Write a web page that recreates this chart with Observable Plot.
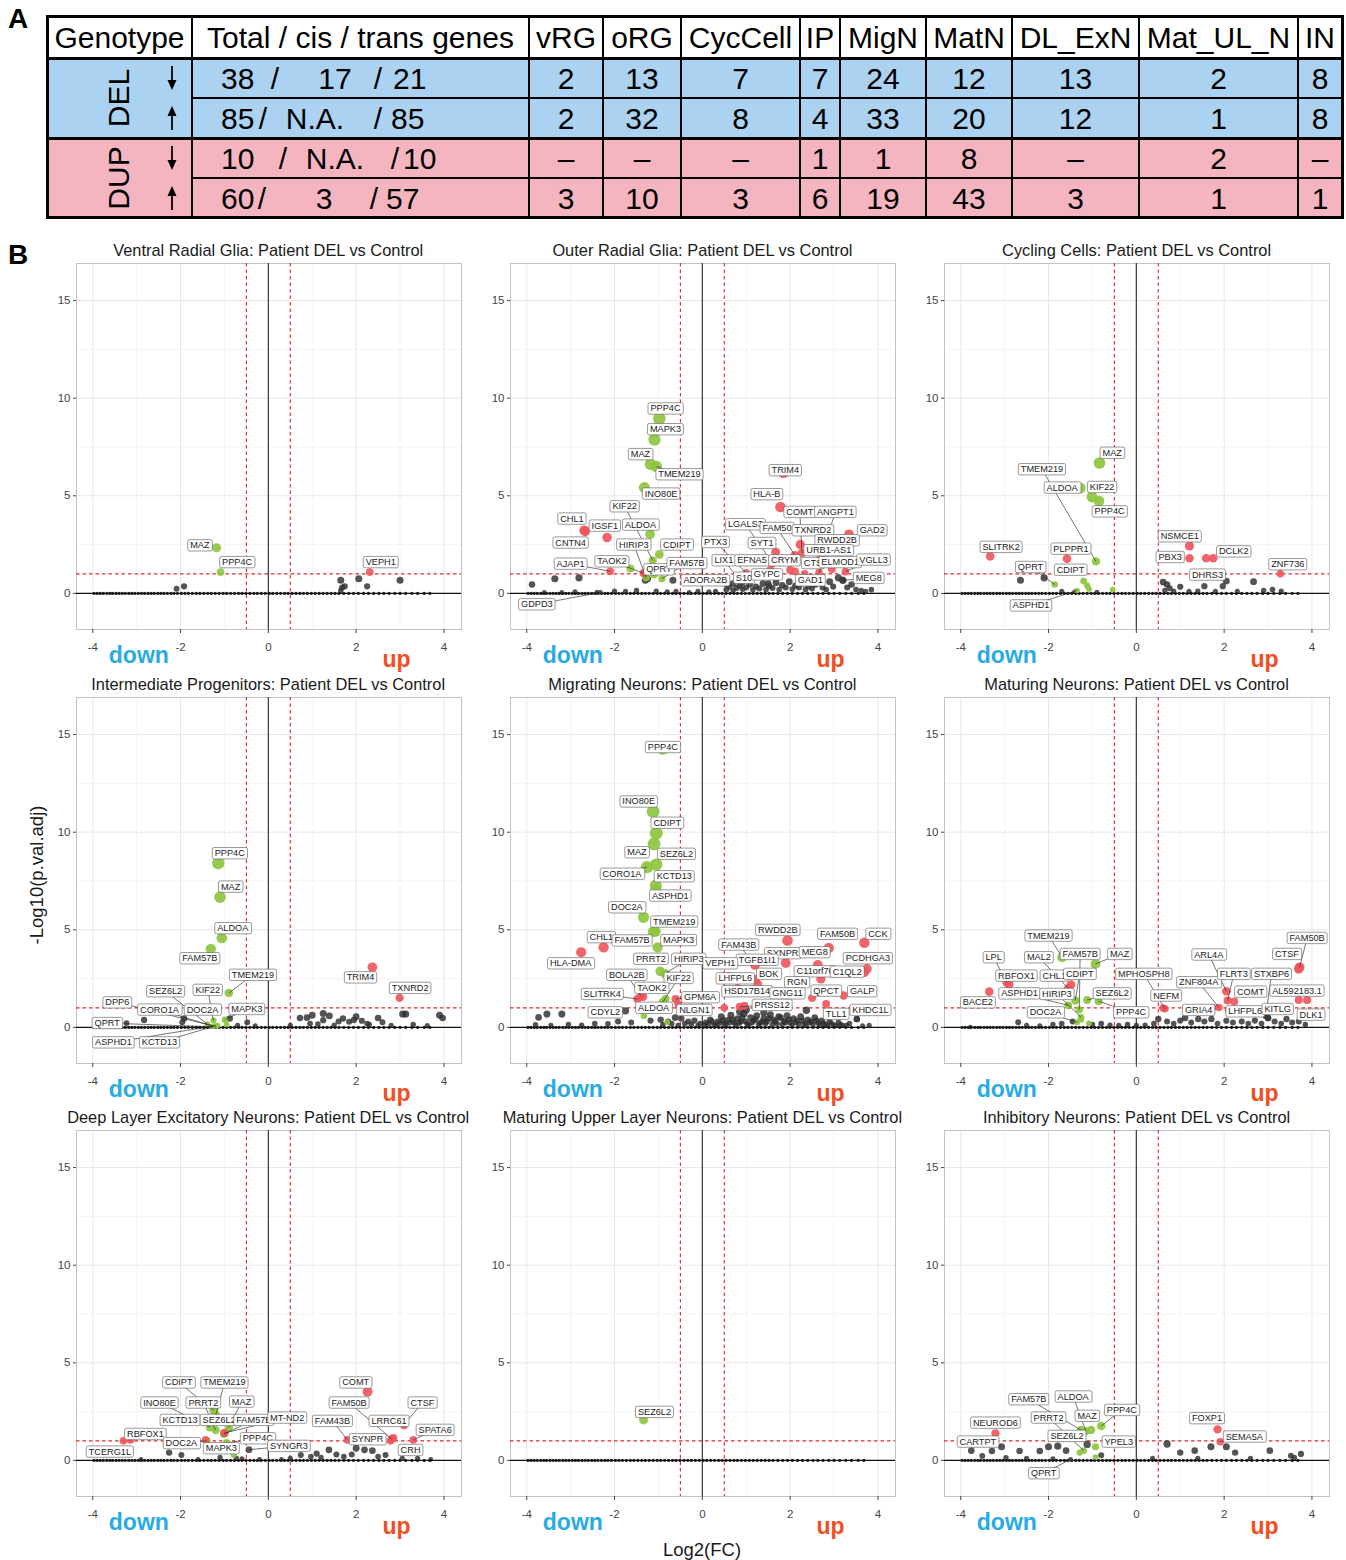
<!DOCTYPE html>
<html><head><meta charset="utf-8">
<script src="https://cdn.jsdelivr.net/npm/d3@7"></script>
<script src="https://cdn.jsdelivr.net/npm/@observablehq/plot@0.6"></script>
<style>
html,body{margin:0;padding:0;background:#fff;}
#fig{position:relative;width:1346px;height:1560px;overflow:hidden;font-family:"Liberation Sans",Arial,Helvetica,sans-serif;color:#000;}
.a{position:absolute;white-space:nowrap;}
.cell{position:absolute;display:flex;align-items:center;justify-content:center;font-size:30px;line-height:1;white-space:nowrap;}
.ttl{position:absolute;width:440px;text-align:center;font-size:16.4px;line-height:18px;color:#1a1a1a;white-space:nowrap;}
</style></head><body><div id="fig"></div>
<script>
// ---------------- TABLE DATA (panel A) ----------------
const tableCols = ["Genotype","Total / cis / trans genes","vRG","oRG","CycCell","IP","MigN","MatN","DL_ExN","Mat_UL_N","IN"];
const genotypes = ["DEL","DUP"];
const totals = [["38","17","21"],["85","N.A.","85"],["10","N.A.","10"],["60","3","57"]];
const counts = [
  ["2","13","7","7","24","12","13","2","8"],
  ["2","32","8","4","33","20","12","1","8"],
  ["–","–","–","1","1","8","–","2","–"],
  ["3","10","3","6","19","43","3","1","1"]
];

// ---------------- VOLCANO DATA (panel B) ----------------
const panelTitles = [
  "Ventral Radial Glia: Patient DEL vs Control",
  "Outer Radial Glia: Patient DEL vs Control",
  "Cycling Cells: Patient DEL vs Control",
  "Intermediate Progenitors: Patient DEL vs Control",
  "Migrating Neurons: Patient DEL vs Control",
  "Maturing Neurons: Patient DEL vs Control",
  "Deep Layer Excitatory Neurons: Patient DEL vs Control",
  "Maturing Upper Layer Neurons: Patient DEL vs Control",
  "Inhibitory Neurons: Patient DEL vs Control"
];
const xTicks = [-4,-2,0,2,4];
const yTicks = [0,5,10,15];
const xMinor = [-3,-1,1,3];
const yMinor = [2.5,7.5,12.5];
const fcThresholds = [-0.5,0.5];
const pThreshold = [1];
const dirWords = ["down","up"];
const dirX = [-2.95,2.92];

// log2FC of genes sitting at -log10(p) ~ 0
const baselineFC = [-3.97,-3.9,-3.83,-3.76,-3.68,-3.61,-3.55,-3.47,-3.4,-3.33,-3.26,-3.18,-3.11,-3.04,-2.96,-2.89,-2.82,-2.74,-2.67,-2.6,-2.52,-2.45,-2.38,-2.3,-2.22,-2.15,-2.07,-1.98,-1.9,-1.82,-1.73,-1.64,-1.56,-1.47,-1.38,-1.3,-1.21,-1.12,-1.03,-0.95,-0.86,-0.77,-0.68,-0.6,-0.51,-0.42,-0.33,-0.25,-0.16,-0.07,0.02,0.1,0.19,0.28,0.37,0.45,0.54,0.63,0.72,0.8,0.89,0.98,1.07,1.16,1.25,1.34,1.43,1.52,1.61,1.72,1.83,1.94,2.05,2.17,2.28,2.4,2.52,2.63,2.75,2.88,3.0,3.13,3.27,3.4,3.55,3.68];

// [gene, log2FC, -log10p, dir, labelX, labelY]
const vrgGenes = [["MAZ",-1.18,2.34,"dn",-1.56,2.46],["PPP4C",-1.09,1.09,"dn",-0.71,1.6],["VEPH1",2.31,1.09,"up",2.56,1.6]];
const vrgExtra = [];
const vrgLow = [[1.65,0.67],[2.06,0.75],[3.0,0.67],[2.25,0.36],[1.74,0.36],[1.68,0.3],[1.65,0.15],[-2.09,0.24],[-1.92,0.36]];

const orgGenes = [
  ["PPP4C",-0.98,8.96,"dn",-0.84,9.47],["MAPK3",-1.09,7.88,"dn",-0.84,8.41],["MAZ",-1.18,6.62,"dn",-1.41,7.13],
  ["TMEM219",-1.05,6.5,"dn",-0.52,6.1],["INO80E",-1.32,5.42,"dn",-0.94,5.11],["KIF22",-1.13,1.69,"dn",-1.77,4.46],
  ["ALDOA",-1.19,3.03,"dn",-1.41,3.52],["HIRIP3",-1.28,0.8,"dn",-1.56,2.5],["CDIPT",-0.98,2.0,"dn",-0.58,2.5],
  ["QPRT",-1.1,0.95,"dn",-0.99,1.23],["FAM57B",-0.92,0.75,"dn",-0.35,1.55],["CHL1",-2.69,3.23,"up",-2.97,3.83],
  ["CNTN4",-2.67,3.18,"up",-3.0,2.6],["IGSF1",-2.17,2.86,"up",-2.22,3.47],["AJAP1",-2.1,1.13,"up",-3.0,1.52],
  ["TAOK2",-1.34,1.04,"up",-2.06,1.64],["GDPD3",-2.32,0.05,"g",-3.77,-0.56],["ADORA2B",0.55,0.45,"g",0.07,0.67],
  ["TRIM4",1.85,6.2,"up",1.89,6.31],["HLA-B",1.78,4.43,"up",1.47,5.08],["COMT",2.27,2.07,"up",2.22,4.17],
  ["ANGPT1",2.7,1.85,"up",3.03,4.17],["LGALS3",1.6,1.55,"up",0.98,3.54],["FAM50",2.11,1.95,"up",1.7,3.35],
  ["TXNRD2",2.23,2.51,"up",2.52,3.23],["GAD2",3.34,3.03,"up",3.87,3.23],["RWDD2B",2.95,2.25,"up",3.07,2.72],
  ["PTX3",1.0,1.05,"up",0.3,2.63],["SYT1",1.67,2.12,"up",1.36,2.58],["URB1-AS1",2.66,1.06,"up",2.88,2.21],
  ["LIX1",0.9,0.55,"g",0.49,1.69],["EFNA5",1.55,1.2,"up",1.13,1.69],["CRYM",2.0,1.2,"up",1.87,1.69],
  ["CTS",2.33,1.0,"up",2.52,1.55],["ELMOD1",2.95,1.25,"up",3.14,1.6],["VGLL3",3.26,1.12,"up",3.9,1.73],
  ["MEG8",3.2,0.67,"g",3.79,0.79],["S10",0.7,0.5,"g",0.95,0.8],["GYPC",1.5,0.5,"g",1.47,0.97],["GAD1",2.2,0.55,"g",2.46,0.67]
];
const orgExtra = [[-1.64,1.27,"dn"],[-1.34,1.04,"up"],[2.11,1.13,"up"]];
const orgLow = [[-3.88,0.46],[-3.36,0.75],[-2.81,0.8],[-1.3,0.67],[-1.25,0.75],[-0.67,0.67],[-3.6,0.05],[-3.2,0.05],[-2.9,0.08],[-2.4,0.06],[-2.0,0.12],[-1.75,0.1],[-1.5,0.15],[-1.05,0.12],[-0.8,0.08],[-0.6,0.1],
  [0.55,0.2],[0.62,0.35],[0.7,0.15],[0.78,0.28],[0.85,0.4],[0.92,0.22],[1.0,0.3],[1.08,0.45],[1.15,0.18],[1.22,0.35],[1.3,0.25],[1.38,0.5],[1.45,0.2],[1.52,0.38],[1.6,0.28],[1.68,0.55],[1.75,0.2],[1.82,0.42],[1.9,0.3],[1.98,0.6],[2.05,0.22],[2.12,0.4],[2.2,0.3],[2.28,0.52],[2.35,0.2],[2.42,0.36],[2.5,0.25],[2.58,0.45],[2.66,0.66],[2.74,0.3],[2.82,0.2],[2.9,0.6],[2.98,0.35],[3.1,0.8],[3.2,0.67],[3.3,0.3],[3.4,0.46],[3.5,0.2],[3.62,0.15],[3.72,0.1],[3.85,0.19],[0.3,0.1],[0.15,0.08],[-0.1,0.1],[-0.3,0.05]];

const cycGenes = [
  ["MAZ",-0.84,6.68,"dn",-0.55,7.2],["TMEM219",-0.92,1.64,"dn",-2.15,6.36],["ALDOA",-1.28,5.4,"dn",-1.69,5.42],
  ["KIF22",-1.01,4.94,"dn",-0.78,5.45],["PPP4C",-0.85,4.73,"dn",-0.61,4.2],["SLITRK2",-3.33,1.9,"up",-3.08,2.38],
  ["PLPPR1",-1.58,1.78,"up",-1.49,2.29],["QPRT",-1.86,0.46,"dn",-2.41,1.35],["CDIPT",-1.2,0.63,"dn",-1.5,1.21],
  ["ASPHD1",-1.35,0.15,"dn",-2.4,-0.62],["NSMCE1",1.21,2.43,"up",0.99,2.92],["PBX3",1.21,1.8,"up",0.77,1.86],
  ["DCLK2",1.75,1.8,"up",2.22,2.15],["DHRS3",1.59,1.8,"up",1.62,0.96],["ZNF736",3.28,1.01,"up",3.45,1.49]
];
const cycExtra = [[-1.08,0.23,"dn"],[-1.12,0.4,"dn"],[-0.54,0.2,"dn"]];
const cycLow = [[-2.64,0.67],[-2.1,0.8],[0.61,0.58],[0.7,0.46],[0.76,0.26],[1.0,0.34],[1.55,0.37],[1.97,0.37],[2.05,0.63],[2.67,0.6],[0.65,0.15],[0.85,0.12],[1.2,0.1],[1.4,0.12],[1.8,0.1],[2.3,0.1],[2.9,0.15],[3.1,0.2],[3.3,0.12],[-1.4,0.08],[-1.7,0.1],[-0.9,0.06]];

const ipGenes = [
  ["PPP4C",-1.14,8.41,"dn",-0.88,8.92],["MAZ",-1.1,6.67,"dn",-0.86,7.21],["ALDOA",-1.06,4.58,"dn",-0.81,5.08],
  ["FAM57B",-1.31,4.02,"dn",-1.56,3.54],["TMEM219",-0.9,1.76,"dn",-0.35,2.69],["SEZ6L2",-1.39,0.17,"dn",-2.34,1.85],
  ["KIF22",-1.25,0.35,"dn",-1.38,1.92],["DPP6",-1.2,0.05,"g",-3.44,1.28],["CORO1A",-1.25,0.05,"dn",-2.48,0.91],
  ["DOC2A",-1.15,0.1,"dn",-1.5,0.91],["MAPK3",-0.99,0.39,"dn",-0.49,0.94],["QPRT",-1.25,0.03,"dn",-3.67,0.22],
  ["ASPHD1",-1.3,0.05,"dn",-3.53,-0.77],["KCTD13",-1.2,0.08,"dn",-2.48,-0.77],
  ["TRIM4",2.37,3.08,"up",2.1,2.56],["TXNRD2",2.99,1.51,"up",3.23,2.02]
];
const ipExtra = [[-0.95,0.15,"dn"]];
const ipLow = [[-3.23,0.22],[-2.83,0.38],[-1.92,0.46],[-1.96,0.26],[-0.48,0.26],[-0.88,0.46],[0.72,0.48],[0.88,0.5],[1.0,0.62],[1.25,0.71],[1.25,0.37],[1.39,0.59],[1.13,0.17],[1.6,0.3],[1.84,0.29],[1.95,0.38],[2.13,0.34],[2.5,0.48],[2.6,0.26],[3.06,0.68],[3.13,0.68],[3.9,0.62],[3.97,0.48],[3.62,0.09],[2.8,0.1],[2.3,0.15],[1.5,0.12],[0.5,0.1],[0.95,0.2],[1.7,0.45],[2.0,0.55],[2.25,0.2],[3.3,0.15],[-0.7,0.1],[-0.3,0.08]];

const migGenes = [
  ["PPP4C",-0.9,14.3,"dn",-0.9,14.36],["INO80E",-1.12,11.06,"dn",-1.45,11.57],["CDIPT",-1.05,9.95,"dn",-0.8,10.48],
  ["MAZ",-1.1,9.4,"dn",-1.49,8.97],["SEZ6L2",-1.05,8.34,"dn",-0.59,8.89],["CORO1A",-1.26,8.21,"dn",-1.83,7.87],
  ["KCTD13",-1.06,7.27,"dn",-0.64,7.74],["ASPHD1",-1.06,7.0,"dn",-0.73,6.75],["DOC2A",-1.34,5.64,"dn",-1.72,6.15],
  ["TMEM219",-1.07,4.92,"dn",-0.64,5.42],["CHL1",-2.25,4.1,"up",-2.3,4.62],["FAM57B",-1.12,4.9,"dn",-1.6,4.45],
  ["MAPK3",-1.02,4.1,"dn",-0.54,4.47],["HLA-DMA",-2.76,3.85,"up",-3.0,3.28],["PRRT2",-0.96,2.87,"dn",-1.17,3.51],
  ["HIRIP3",-0.85,2.75,"dn",-0.31,3.51],["BOLA2B",-1.4,1.6,"up",-1.72,2.69],["KIF22",-0.9,1.3,"dn",-0.54,2.53],
  ["TAOK2",-1.35,1.57,"up",-1.15,2.02],["SLITRK4",-1.48,1.45,"up",-2.28,1.71],["GPM6A",-0.61,1.45,"up",-0.05,1.54],
  ["ALDOA",-0.84,1.45,"dn",-1.11,1.0],["NLGN1",-0.55,1.2,"up",-0.18,0.89],["CDYL2",-1.75,0.85,"g",-2.21,0.77],
  ["RWDD2B",1.94,4.45,"up",1.72,4.99],["FAM50B",2.88,4.07,"up",3.08,4.79],["CCK",3.69,4.33,"up",4.0,4.79],
  ["FAM43B",1.2,3.2,"up",0.83,4.24],["SYNPR",1.9,3.3,"up",1.83,3.8],["MEG8",2.63,3.2,"up",2.56,3.85],
  ["TGFB1I1",1.2,2.45,"up",1.25,3.46],["PCDHGA3",3.75,3.0,"up",3.77,3.54],["VEPH1",0.6,2.6,"up",0.41,3.28],
  ["C11orf70",2.7,2.48,"up",2.57,2.87],["C1QL2",3.69,2.82,"up",3.3,2.85],["LHFPL6",0.8,2.0,"up",0.75,2.51],
  ["BOK",1.26,2.22,"up",1.51,2.74],["RGN",2.16,2.0,"up",2.16,2.31],["QPCT",2.5,1.51,"up",2.82,1.88],
  ["GALP",3.22,1.63,"up",3.64,1.85],["HSD17B14",0.96,1.11,"up",1.02,1.85],["GNG11",1.94,1.6,"up",1.94,1.74],
  ["PRSS12",0.85,1.06,"up",1.59,1.15],["TLL1",2.82,1.2,"up",3.05,0.69],["KHDC1L",3.52,0.43,"g",3.83,0.89]
];
const migExtra = [[-1.33,0.6,"dn"],[-0.8,0.26,"dn"],[0.5,1.0,"up"]];
const migLow = [[-3.73,0.51],[-3.54,0.68],[-3.2,0.68],[-3.8,0.14],[-3.45,0.1],[-3.05,0.15],[-2.75,0.12],[-2.45,0.2],[-2.15,0.18],[-1.92,0.3],[-1.62,0.25],[-1.18,0.35],[-0.95,0.4],[-0.78,0.3],[-0.62,0.5],[-0.48,0.45],[-0.32,0.3],[-0.18,0.35],[-0.05,0.2],[0.08,0.25],[0.18,0.4],[0.27,0.15],[0.35,0.3],[0.43,0.55],[0.5,0.2],[0.58,0.38],[0.65,0.62],[0.72,0.25],[0.8,0.45],[0.88,0.3],[0.95,0.7],[1.02,0.18],[1.1,0.5],[1.17,0.35],[1.24,0.6],[1.32,0.22],[1.4,0.45],[1.47,0.3],[1.55,0.65],[1.62,0.4],[1.7,0.2],[1.78,0.5],[1.86,0.32],[1.93,0.6],[2.0,0.25],[2.08,0.45],[2.16,0.35],[2.24,0.55],[2.32,0.2],[2.4,0.4],[2.48,0.3],[2.56,0.5],[2.64,0.22],[2.72,0.35],[2.8,0.15],[2.9,0.3],[3.0,0.12],[3.1,0.25],[3.2,0.1],[3.35,0.2],[3.52,0.43],[3.65,0.08],[3.8,0.1],[2.37,0.88],[1.4,0.75],[1.0,0.9],[0.85,0.8],
  [-0.9,0.15],[-0.7,0.2],[-0.55,0.12],[-0.4,0.2],[-0.25,0.15],[-0.1,0.1],[0.05,0.12],[0.14,0.18],[0.22,0.3],[0.31,0.12],[0.39,0.22],[0.47,0.35],[0.54,0.12],[0.62,0.25],[0.69,0.4],[0.76,0.15],[0.84,0.22],[0.91,0.5],[0.99,0.3],[1.06,0.12],[1.13,0.25],[1.21,0.42],[1.28,0.15],[1.36,0.3],[1.44,0.2],[1.51,0.45],[1.59,0.15],[1.66,0.3],[1.74,0.55],[1.82,0.15],[1.89,0.25],[1.97,0.4],[2.04,0.12],[2.12,0.25],[2.2,0.15],[2.28,0.35],[2.36,0.12],[2.44,0.25],[2.52,0.15],[2.6,0.35],[2.68,0.12],[2.76,0.22],[2.85,0.1],[2.95,0.18],[3.05,0.08],[3.15,0.15],[3.28,0.1]];

const matGenes = [
  ["TMEM219",-1.69,3.59,"dn",-2.0,4.7],["LPL",-2.95,2.31,"up",-3.25,3.59],["MAL2",-1.55,2.0,"up",-2.22,3.59],
  ["FAM57B",-1.3,0.9,"dn",-1.28,3.76],["MAZ",-0.93,3.25,"dn",-0.38,3.76],["RBFOX1",-2.9,2.2,"up",-2.73,2.65],
  ["CHL1",-1.49,2.19,"up",-1.87,2.65],["CDIPT",-1.39,1.38,"dn",-1.29,2.74],["ASPHD1",-1.55,1.13,"dn",-2.66,1.74],
  ["HIRIP3",-1.26,0.52,"dn",-1.81,1.71],["SEZ6L2",-1.12,1.4,"dn",-0.55,1.74],["BACE2",-3.35,1.83,"up",-3.61,1.28],
  ["DOC2A",-1.35,0.26,"dn",-2.07,0.77],["PPP4C",-0.86,1.34,"dn",-0.12,0.77],["MPHOSPH8",0.65,0.95,"up",0.17,2.74],
  ["NEFM",0.61,0.99,"up",0.68,1.63],["ARL4A",2.05,1.85,"up",1.65,3.73],["ZNF804A",1.88,1.02,"up",1.42,2.31],
  ["FLRT3",2.08,1.38,"up",2.22,2.74],["STXBP6",2.95,0.6,"g",3.08,2.74],["FAM50B",3.72,3.08,"up",3.89,4.58],
  ["CTSF",3.7,3.0,"up",3.43,3.76],["COMT",2.23,1.32,"up",2.6,1.83],["AL592183.1",3.7,1.4,"up",3.66,1.88],
  ["GRIA4",1.74,1.02,"up",1.42,0.89],["LHFPL6",2.1,0.9,"up",2.48,0.82],["KITLG",3.0,0.48,"g",3.22,0.94],
  ["DLK1",3.89,1.4,"up",3.98,0.65]
];
const matExtra = [[-1.08,0.21,"dn"],[-1.26,0.4,"dn"]];
const matLow = [[-2.69,0.26],[-2.5,0.1],[-3.78,0.02],[-2.2,0.08],[-1.9,0.15],[-1.7,0.2],[-1.45,0.3],[-1.0,0.15],[-0.8,0.2],[-0.6,0.12],[-0.4,0.1],[-0.2,0.15],[0.0,0.1],[0.2,0.12],[0.4,0.2],[0.5,0.43],[0.7,0.3],[0.85,0.2],[1.0,0.35],[1.11,0.48],[1.25,0.25],[1.41,0.43],[1.55,0.3],[1.71,0.43],[1.85,0.2],[2.05,0.34],[2.2,0.25],[2.4,0.3],[2.55,0.2],[2.7,0.35],[2.85,0.2],[3.0,0.48],[3.15,0.3],[3.3,0.2],[3.42,0.43],[3.55,0.25],[3.7,0.3],[3.85,0.15]];

const dlGenes = [
  ["CDIPT",-1.24,2.55,"dn",-2.04,3.99],["TMEM219",-1.2,2.3,"dn",-1.0,3.99],["INO80E",-1.33,1.7,"dn",-2.48,2.96],
  ["PRRT2",-1.2,1.55,"dn",-1.48,2.96],["MAZ",-0.9,1.68,"dn",-0.61,3.01],["KCTD13",-1.46,2.0,"dn",-2.01,2.07],
  ["SEZ6L2",-1.0,1.4,"dn",-1.12,2.07],["FAM57B",-1.01,1.35,"dn",-0.33,2.07],["MT-ND2",-1.0,1.4,"up",0.43,2.19],
  ["RBFOX1",-3.14,1.05,"up",-2.8,1.35],["TCERG1L",-3.3,1.0,"up",-3.61,0.45],["DOC2A",-1.4,1.0,"dn",-1.98,0.88],
  ["MAPK3",-0.79,0.27,"dn",-1.07,0.62],["PPP4C",-0.95,0.9,"dn",-0.24,1.13],["SYNGR3",-0.44,0.55,"g",0.47,0.74],
  ["COMT",2.26,3.52,"up",1.99,3.99],["FAM50B",2.81,1.1,"up",1.84,2.96],["CTSF",3.09,1.82,"up",3.51,2.96],
  ["FAM43B",1.8,1.05,"up",1.46,2.02],["LRRC61",2.85,1.15,"up",2.75,2.02],["SPATA6",3.3,1.05,"up",3.8,1.56],
  ["SYNPR",2.78,1.0,"up",2.26,1.08],["CRH",3.05,0.11,"g",3.24,0.53]
];
const dlExtra = [[-1.43,1.05,"up"]];
const dlLow = [[-2.26,0.4],[-1.98,0.28],[-0.73,0.12],[-1.1,0.15],[-0.6,0.08],[0.74,0.28],[0.97,0.19],[1.38,0.54],[1.72,0.19],[2.0,0.62],[2.19,0.54],[2.37,0.5],[2.67,0.28],[1.1,0.35],[1.2,0.15],[1.55,0.3],[1.9,0.3],[2.5,0.2],[0.5,0.1],[0.3,0.05],[-0.2,0.05],[-1.6,0.05],[-2.9,0.05],[3.4,0.1],[3.7,0.05]];

const mulGenes = [["SEZ6L2",-1.34,2.07,"dn",-1.09,2.48]];
const mulExtra = [];
const mulLow = [];

const inGenes = [
  ["FAM57B",-1.26,1.56,"dn",-2.45,3.13],["ALDOA",-1.15,1.5,"dn",-1.44,3.27],["PPP4C",-0.8,1.76,"dn",-0.33,2.58],
  ["PRRT2",-1.2,0.5,"dn",-2.0,2.19],["MAZ",-1.03,1.56,"dn",-1.12,2.28],["NEUROD6",-3.21,1.39,"up",-3.21,1.93],
  ["SEZ6L2",-1.29,0.4,"dn",-1.58,1.25],["CARTPT",-3.07,0.7,"g",-3.61,0.96],["YPEL3",-0.93,0.7,"dn",-0.4,0.96],
  ["QPRT",-1.5,0.05,"g",-2.11,-0.66],["FOXP1",1.85,1.59,"up",1.61,2.16],["SEMA5A",1.91,0.96,"up",2.46,1.22]
];
const inExtra = [[-0.93,0.17,"dn"]];
const inLow = [[-3.76,0.5],[-3.51,0.23],[-3.29,0.48],[-2.66,0.48],[-2.2,0.48],[-2.0,0.7],[-1.79,0.73],[-1.6,0.5],[-1.12,0.82],[-0.8,0.26],[-2.97,0.14],[1.0,0.4],[1.33,0.5],[1.7,0.7],[2.05,0.7],[2.25,0.4],[3.04,0.5],[3.52,0.24],[3.75,0.33],[0.7,0.84],[0.37,0.1],[1.4,0.1],[2.6,0.1],[3.6,0.15],[-2.5,0.1],[-1.9,0.08]];

const panelGenes = [vrgGenes,orgGenes,cycGenes,ipGenes,migGenes,matGenes,dlGenes,mulGenes,inGenes];
const panelExtra = [vrgExtra,orgExtra,cycExtra,ipExtra,migExtra,matExtra,dlExtra,mulExtra,inExtra];
const panelLow = [vrgLow,orgLow,cycLow,ipLow,migLow,matLow,dlLow,mulLow,inLow];

// ---------------- LAYOUT ----------------
const fig = document.getElementById("fig");
function div(cls, css, html){ const d=document.createElement("div"); d.className=cls; Object.assign(d.style, css); if(html!==undefined) d.innerHTML=html; fig.appendChild(d); return d; }

// Panel letters
div("a",{left:"8px",top:"4px",fontSize:"28px",fontWeight:"bold",lineHeight:"30px"},"A");
div("a",{left:"8px",top:"240px",fontSize:"28px",fontWeight:"bold",lineHeight:"30px"},"B");

// Table
const colX=[47,192,529,603,681,800,840,926,1012,1139,1298,1342];
const rowY=[16,58,98,138,178,217];
div("a",{left:"47px",top:"16px",width:"1295px",height:"42px",background:"#fff"});
div("a",{left:"47px",top:"58px",width:"1295px",height:"80px",background:"#abd2f0"});
div("a",{left:"47px",top:"138px",width:"1295px",height:"79px",background:"#f4b5c0"});
tableCols.forEach((c,i)=>div("cell",{left:colX[i]+"px",top:"17px",width:(colX[i+1]-colX[i])+"px",height:"42px"},c));
counts.forEach((row,r)=>row.forEach((v,j)=>div("cell",{left:colX[j+2]+"px",top:(rowY[r+1]+1)+"px",width:(colX[j+3]-colX[j+2])+"px",height:(rowY[r+2]-rowY[r+1])+"px"},v)));
const pieceX=[[221,275,335,378,393],[221,263,315,378,391],[221,283,335,395,403],[221,262,324,374,386]];
totals.forEach((t,r)=>{
  const parts=[t[0],"/",t[1],"/",t[2]];
  const cy=(rowY[r+1]+rowY[r+2])/2+1;
  parts.forEach((s,k)=>{
    const d=div("a",{top:(cy-16)+"px",fontSize:"30px",lineHeight:"32px"},s);
    if(k===0||k===4){ d.style.left=pieceX[r][k]+"px"; }
    else { d.style.left=(pieceX[r][k]-50)+"px"; d.style.width="100px"; d.style.textAlign="center"; }
  });
});
genotypes.forEach((g,i)=>{
  const cy=(rowY[2*i+1]+rowY[2*i+3])/2;
  div("a",{left:"79px",top:(cy-17)+"px",width:"80px",height:"34px",fontSize:"30px",lineHeight:"34px",textAlign:"center",transform:"rotate(-90deg)"},g);
});
[0,1,2,3].forEach(r=>{
  const cy=(rowY[r+1]+rowY[r+2])/2;
  const down=(r%2===0);
  const svg = down
    ? '<svg width="14" height="26"><line x1="7" y1="1" x2="7" y2="17" stroke="#000" stroke-width="1.8"/><polygon points="2.5,15 11.5,15 7,25" fill="#000"/></svg>'
    : '<svg width="14" height="26"><line x1="7" y1="9" x2="7" y2="25" stroke="#000" stroke-width="1.8"/><polygon points="2.5,11 11.5,11 7,1" fill="#000"/></svg>';
  div("a",{left:"165px",top:(cy-13)+"px",width:"14px",height:"26px"},svg);
});
function hline(x1,x2,y,w){div("a",{left:x1+"px",top:(y-w/2)+"px",width:(x2-x1)+"px",height:w+"px",background:"#000"});}
function vline(x,y1,y2,w){div("a",{left:(x-w/2)+"px",top:y1+"px",width:w+"px",height:(y2-y1)+"px",background:"#000"});}
hline(45.5,1343.5,16,3); hline(45.5,1343.5,58,3); hline(192,1342,98,1.5);
hline(45.5,1343.5,138,3); hline(192,1342,178,1.5); hline(45.5,1343.5,217,3);
colX.forEach((x,i)=>vline(x,14.5,218.5,(i===0||i===colX.length-1)?3:2));

// Axis titles
div("a",{left:"-63px",top:"863px",width:"200px",height:"24px",fontSize:"18.5px",lineHeight:"24px",textAlign:"center",transform:"rotate(-90deg)",color:"#1a1a1a"},"-Log10(p.val.adj)");
div("a",{left:"602px",top:"1538px",width:"200px",height:"24px",fontSize:"18.5px",lineHeight:"24px",textAlign:"center",color:"#1a1a1a"},"Log2(FC)");

// ---------------- VOLCANO PLOTS ----------------
const FX0=75.7, FY0=263, DX=434.2, DY=433.7, FW=385, FH=366;
const ML=40, MT=10, MR=5, MB=52;
const LABEL_FS=9.2;
const rScale={type:"pow",exponent:0.35,domain:[0,10],range:[1.6,6.5],clamp:true};

function volcano(i){
  const base=baselineFC.map(x=>({x,y:0}));
  const low=panelLow[i].map(([x,y])=>({x,y}));
  const genes=panelGenes[i].map(([g,x,y,k,lx,ly])=>({g,x,y,k,lx,ly}));
  const all=genes.concat(panelExtra[i].map(([x,y,k])=>({x,y,k})));
  const segs=genes.filter(d=>Math.hypot((d.lx-d.x)*43.9,(d.ly-d.y)*19.5)>24);
  const dot=(data,fill,op)=>Plot.dot(data,{x:"x",y:"y",r:"y",fill,fillOpacity:op,clip:true});
  return Plot.plot({
    width:ML+FW+MR, height:MT+FH+MB,
    marginLeft:ML, marginTop:MT, marginRight:MR, marginBottom:MB,
    x:{domain:[-4.37,4.4]}, y:{domain:[-1.85,16.9]}, r:rScale,
    style:{background:"transparent",fontFamily:"Liberation Sans, Arial, sans-serif",fontSize:"11.5px",overflow:"visible"},
    marks:[
      Plot.ruleX(xMinor,{stroke:"#f3f3f3",strokeWidth:0.8}),
      Plot.ruleY(yMinor,{stroke:"#f3f3f3",strokeWidth:0.8}),
      Plot.ruleX(xTicks,{stroke:"#e8e8e8",strokeWidth:1}),
      Plot.ruleY(yTicks,{stroke:"#e8e8e8",strokeWidth:1}),
      Plot.frame({stroke:"#c2c2c2",strokeWidth:1}),
      Plot.ruleX(fcThresholds,{stroke:"#e3262b",strokeWidth:1.1,strokeDasharray:"3.5,3"}),
      Plot.ruleY(pThreshold,{stroke:"#e3262b",strokeWidth:1.1,strokeDasharray:"3.5,3"}),
      Plot.ruleX([0],{stroke:"#3a3a3a",strokeWidth:1.2}),
      dot(base,"#111",0.9),
      dot(low,"#2e2e2e",0.82),
      Plot.ruleY([0],{stroke:"#111",strokeWidth:1.4}),
      dot(all.filter(d=>d.k==="g"),"#3a3a3a",0.85),
      dot(all.filter(d=>d.k==="dn"),"#8cc63f",0.92),
      dot(all.filter(d=>d.k==="up"),"#f0535a",0.9),
      Plot.link(segs,{x1:"x",y1:"y",x2:"lx",y2:"ly",stroke:"#2a2a2a",strokeWidth:0.65}),
      Plot.text(genes,{x:"lx",y:"ly",text:"g",fontSize:LABEL_FS,fill:"#222",className:"glab"}),
      Plot.text([{x:dirX[0],t:dirWords[0]}],{x:"x",text:"t",frameAnchor:"bottom",dy:26.6,lineAnchor:"middle",fontSize:23,fontWeight:"bold",fill:"#29abe2"}),
      Plot.text([{x:dirX[1],t:dirWords[1]}],{x:"x",text:"t",frameAnchor:"bottom",dy:30.6,lineAnchor:"middle",fontSize:23,fontWeight:"bold",fill:"#f04e23"}),
      Plot.axisX({ticks:xTicks,tickFormat:d=>String(d),tickSize:4,tickPadding:9,fontSize:11.5,color:"#444",label:null}),
      Plot.axisY({ticks:yTicks,tickFormat:d=>String(d),tickSize:3,tickPadding:3,fontSize:11.5,color:"#444",label:null})
    ]
  });
}

function boxLabels(svg){
  const set=new Set([...svg.querySelectorAll('g.glab text'), ...svg.querySelectorAll('g[font-size="'+LABEL_FS+'"] text')]);
  set.forEach(t=>{
    const b=t.getBBox();
    const r=document.createElementNS("http://www.w3.org/2000/svg","rect");
    r.setAttribute("x",b.x-2.4); r.setAttribute("y",b.y-0.7);
    r.setAttribute("width",b.width+4.8); r.setAttribute("height",b.height+1.4);
    r.setAttribute("rx",1.8); r.setAttribute("fill","#fff");
    r.setAttribute("stroke","#555"); r.setAttribute("stroke-width","0.6");
    const tr=t.getAttribute("transform"); if(tr) r.setAttribute("transform",tr);
    t.parentNode.insertBefore(r,t);
  });
}

panelTitles.forEach((title,i)=>{
  const c=i%3, r=Math.floor(i/3);
  const fl=FX0+DX*c, ft=FY0+DY*r;
  div("ttl",{left:(fl+FW/2-220)+"px",top:(ft-22)+"px"},title);
  const holder=div("a",{left:(fl-ML)+"px",top:(ft-MT)+"px"});
  const svg=volcano(i);
  holder.appendChild(svg);
  boxLabels(svg.tagName.toLowerCase()==="svg"?svg:svg.querySelector("svg"));
});
</script></body></html>
